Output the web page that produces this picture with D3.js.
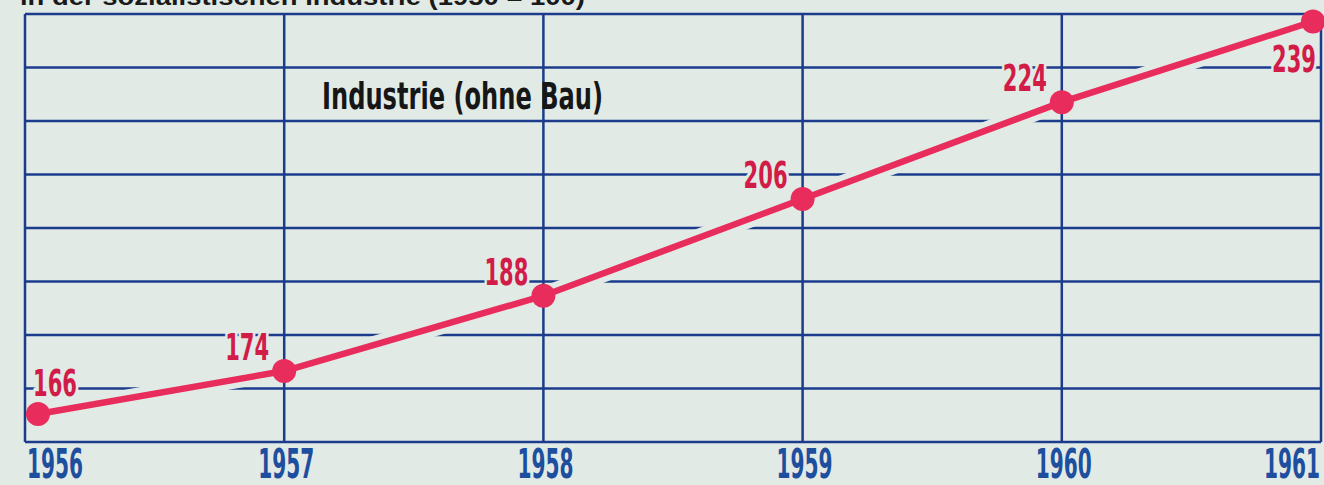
<!DOCTYPE html>
<html>
<head>
<meta charset="utf-8">
<script src="https://cdn.jsdelivr.net/npm/d3@7"></script>
<style>
  html, body { margin: 0; padding: 0; background: #e2eae6; }
  svg { display: block; }
</style>
</head>
<body>
<div id="chart"></div>
<script>
// data read from the poster
const years = [1956, 1957, 1958, 1959, 1960, 1961]
const values = [166, 174, 188, 206, 224, 239]
const yearLabels = ["1956", "1957", "1958", "1959", "1960", "1961"]
const seriesName = "Industrie (ohne Bau)"
const titleText = "in der sozialistischen Industrie (1950 = 100)"
const gridRows = 8 // number of horizontal bands

const svgWidth = 1324
const svgHeight = 485
const paper = "#e2eae6"
const gridBlue = "#1b3c8c"
const yearBlue = "#1d4f9e"
const lineRed = "#e82d5d"
const labelRed = "#d21c48"
const condensed = "'Liberation Sans Narrow', 'DejaVu Sans Condensed', 'Roboto Condensed', sans-serif"

const plot = { left: 25, right: 1321, top: 14, bottom: 442 }

const svg = d3.select("#chart")
  .append("svg")
  .attr("width", svgWidth)
  .attr("height", svgHeight)

svg.append("rect")
  .attr("width", svgWidth)
  .attr("height", svgHeight)
  .attr("fill", paper)

// scales
const x = d3.scaleLinear()
  .domain(d3.extent(years))
  .range([plot.left, plot.right])

const y = d3.scaleLinear()
  .domain([160.8, 240.4])
  .range([plot.bottom, plot.top])

const rowScale = d3.scaleLinear() // grid rows, evenly spaced
  .domain([0, gridRows])
  .range([plot.bottom, plot.top])

// title (cut off at the top edge like the scan)
svg.append("text")
  .attr("x", 20)
  .attr("y", 5)
  .attr("font-family", "'Liberation Sans', Arial, sans-serif")
  .attr("font-weight", "bold")
  .attr("font-size", 24)
  .attr("textLength", 565)
  .attr("lengthAdjust", "spacingAndGlyphs")
  .attr("fill", "#1a1a1a")
  .text(titleText)

// GRID
const grid = svg.append("g")
  .attr("stroke", gridBlue)
  .attr("stroke-width", 2.5)

grid.selectAll(".hline")
  .data(d3.range(gridRows + 1))
  .join("line")
  .attr("class", "hline")
  .attr("x1", plot.left)
  .attr("x2", plot.right)
  .attr("y1", (d) => rowScale(d))
  .attr("y2", (d) => rowScale(d))

grid.selectAll(".vline")
  .data(years)
  .join("line")
  .attr("class", "vline")
  .attr("x1", (d) => x(d))
  .attr("x2", (d) => x(d))
  .attr("y1", plot.top)
  .attr("y2", plot.bottom)

// X-AXIS LABELS
svg.append("g")
  .selectAll("text")
  .data(yearLabels)
  .join("text")
  .attr("x", (d, i) => i === 0 ? x(years[i]) + 2 : (i === years.length - 1 ? x(years[i]) - 1 : x(years[i]) + 2))
  .attr("y", 478)
  .attr("text-anchor", (d, i) => i === 0 ? "start" : (i === years.length - 1 ? "end" : "middle"))
  .attr("font-family", condensed)
  .attr("font-weight", "bold")
  .attr("font-size", 40)
  .attr("textLength", 56)
  .attr("lengthAdjust", "spacingAndGlyphs")
  .attr("fill", yearBlue)
  .text((d) => d)

// series label
svg.append("text")
  .attr("x", 322)
  .attr("y", 109)
  .attr("font-family", condensed)
  .attr("font-weight", "bold")
  .attr("font-size", 38)
  .attr("textLength", 281)
  .attr("lengthAdjust", "spacingAndGlyphs")
  .attr("fill", "#161616")
  .text(seriesName)

// DATA
const points = years.map((yr, i) => {
  // end points are pulled in so the dots stay inside the frame
  let px = x(yr)
  if (i === 0) px += 13
  if (i === years.length - 1) px -= 8
  return { year: yr, value: values[i], px: px, py: y(values[i]) }
})

const line = d3.line()
  .x((d) => d.px)
  .y((d) => d.py)

// paper-coloured halo that breaks the grid where the line crosses it
svg.append("path")
  .datum(points)
  .attr("d", line)
  .attr("fill", "none")
  .attr("stroke", paper)
  .attr("stroke-width", 18)

svg.append("path")
  .datum(points)
  .attr("d", line)
  .attr("fill", "none")
  .attr("stroke", lineRed)
  .attr("stroke-width", 6.5)

svg.append("g")
  .selectAll("circle")
  .data(points)
  .join("circle")
  .attr("cx", (d) => d.px)
  .attr("cy", (d) => d.py)
  .attr("r", 12)
  .attr("fill", lineRed)

// value labels: left of the dot, first one to the right, last one below
const labelPos = (d, i) => {
  if (i === 0) return { dx: -5, dy: -18, anchor: "start" }
  if (i === points.length - 1) return { dx: 3, dy: 50, anchor: "end" }
  return { dx: -15, dy: -11, anchor: "end" }
}

svg.append("g")
  .selectAll("text")
  .data(points)
  .join("text")
  .attr("x", (d, i) => d.px + labelPos(d, i).dx)
  .attr("y", (d, i) => d.py + labelPos(d, i).dy)
  .attr("text-anchor", (d, i) => labelPos(d, i).anchor)
  .attr("font-family", condensed)
  .attr("font-weight", "bold")
  .attr("font-size", 38)
  .attr("textLength", 44)
  .attr("lengthAdjust", "spacingAndGlyphs")
  .attr("fill", labelRed)
  .attr("stroke", paper)
  .attr("stroke-width", 8)
  .attr("stroke-linejoin", "round")
  .attr("paint-order", "stroke")
  .text((d) => d.value)
</script>
</body>
</html>
